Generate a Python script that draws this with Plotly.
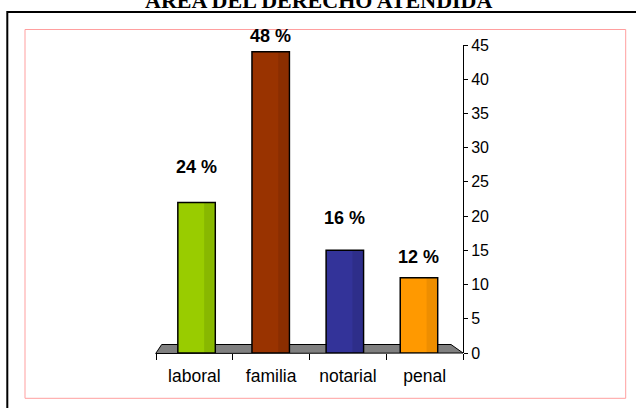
import plotly.graph_objects as go

# ---- data ----
categories = ["laboral", "familia", "notarial", "penal"]
values = [22, 44, 15, 11]
pct_labels = ["24 %", "48 %", "16 %", "12 %"]
y_ticks = [0, 5, 10, 15, 20, 25, 30, 35, 40, 45]
title_text = "ÁREA DEL DERECHO ATENDIDA"

# ---- styles ----
fill_colors = ["#99CC00", "#993300", "#333399", "#FF9900"]
band_colors = ["#88B800", "#8A2E00", "#2E2E8A", "#EE8E00"]
label_shift = [35, 16, 32, 21]  # pixel offsets of the value labels above bar tops

W, H = 636, 408
ML, MR, MT, MB = 156, 173, 45, 55
PW, PH = W - ML - MR, H - MT - MB


def px_x(px):
    return (px - ML) / PW


def px_y(py):
    return (H - MB - py) / PH


BAR_W = 0.505
BAND_W = 0.13

fig = go.Figure()

# main fill
fig.add_trace(go.Bar(
    x=categories, y=values, xaxis="x2", width=BAR_W,
    marker=dict(color=fill_colors, line=dict(width=0)),
    hoverinfo="skip", showlegend=False,
))
# darker right band (3D shading)
fig.add_trace(go.Bar(
    x=categories, y=values, xaxis="x2", width=BAND_W,
    offset=BAR_W / 2 - BAND_W - 0.02,
    marker=dict(color=band_colors, line=dict(width=0)),
    hoverinfo="skip", showlegend=False,
))
# outline
fig.add_trace(go.Bar(
    x=categories, y=values, xaxis="x2", width=BAR_W,
    marker=dict(color="rgba(0,0,0,0)", line=dict(color="black", width=1.5)),
    hoverinfo="skip", showlegend=False,
))
# invisible trace to set up the category axis
fig.add_trace(go.Scatter(
    x=categories, y=[0] * len(categories), mode="markers",
    marker=dict(opacity=0), hoverinfo="skip", showlegend=False,
))

annotations = []
for c, v, t, s in zip(categories, values, pct_labels, label_shift):
    annotations.append(dict(
        x=c, y=v, xref="x2", yref="y", text=f"<b>{t}</b>", showarrow=False,
        yanchor="middle", yshift=s,
        font=dict(family="Liberation Sans", size=18, color="black"),
    ))
annotations.append(dict(
    x=0.5 * (px_x(0) + px_x(W)), y=px_y(8), xref="paper", yref="paper",
    text=f"<b>{title_text}</b>", showarrow=False, yanchor="bottom", yshift=-7,
    font=dict(family="Liberation Serif", size=22, color="black"),
))

shapes = [
    # outer black frame
    dict(type="rect", xref="paper", yref="paper",
         x0=px_x(7.3), x1=px_x(645), y0=px_y(12), y1=px_y(420),
         line=dict(color="black", width=2), layer="below"),
    # inner pink frame
    dict(type="rect", xref="paper", yref="paper",
         x0=px_x(25), x1=px_x(625.7), y0=px_y(29.5), y1=px_y(398.3),
         line=dict(color="#FF9F9F", width=1), layer="below"),
    # gray floor
    dict(type="path", xref="paper", yref="paper",
         path=(f"M {px_x(155.7)} {px_y(353.5)} L {px_x(161.7)} {px_y(344.5)} "
               f"L {px_x(451)} {px_y(344.5)} L {px_x(463)} {px_y(353)} Z"),
         fillcolor="#808080", line=dict(color="black", width=1), layer="below"),
]

fig.update_layout(
    width=W, height=H,
    margin=dict(l=ML, r=MR, t=MT, b=MB, pad=0),
    paper_bgcolor="white", plot_bgcolor="rgba(0,0,0,0)",
    barmode="overlay",
    showlegend=False,
    font=dict(family="Liberation Sans", size=16, color="black"),
    xaxis=dict(
        type="category", categoryorder="array", categoryarray=categories,
        range=[-0.5, 3.5], showline=False, showgrid=False, zeroline=False,
        ticks="outside", tickson="boundaries", ticklen=6, tickwidth=1,
        tickcolor="black", tickfont=dict(size=17.5), ticklabelstandoff=10,
        fixedrange=True,
    ),
    xaxis2=dict(
        type="category", categoryorder="array", categoryarray=categories,
        overlaying="x", range=[-0.547, 3.594], visible=False, fixedrange=True,
    ),
    yaxis=dict(
        side="right", range=[0, 45], tickvals=y_ticks, showgrid=False,
        zeroline=False, showline=True, linecolor="black", linewidth=1,
        ticks="outside", ticklen=4, tickwidth=1, tickcolor="black",
        tickfont=dict(size=16), fixedrange=True,
    ),
    annotations=annotations,
    shapes=shapes,
)

fig.write_html(
    "out.html",
    config={"displayModeBar": False, "staticPlot": True},
    post_script="document.body.style.margin='0px';document.body.style.overflow='hidden';",
)
